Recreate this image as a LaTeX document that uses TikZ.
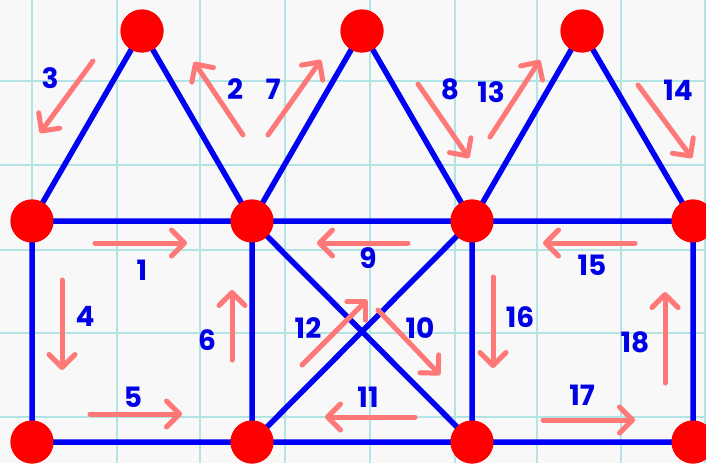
\documentclass[tikz,border=0pt]{standalone}
\usepackage{fontspec}
\setmainfont{Poppins}[BoldFont={Poppins Bold}]
\usetikzlibrary{arrows.meta}
\definecolor{paper}{RGB}{248,248,248}
\definecolor{gridc}{RGB}{178,228,230}
\definecolor{edgeb}{RGB}{0,0,245}
\definecolor{dotr}{RGB}{255,0,0}
\definecolor{arrc}{RGB}{255,120,120}
\definecolor{numb}{RGB}{0,0,230}
\tikzset{
  gridline/.style={draw=gridc,line width=2.5pt},
  edge/.style={draw=edgeb,line width=5.5pt},
  dot/.style={circle,fill=dotr,minimum size=43pt,inner sep=0pt},
  arr/.style={draw=arrc,line width=5pt,line cap=round,-{Straight Barb[length=13pt,width=26pt,round]}},
  num/.style={text=numb,font=\fontsize{28}{28}\selectfont\bfseries,inner sep=0pt}
}
\begin{document}
\begin{tikzpicture}[x=1pt,y=-1pt]
\useasboundingbox (0,0) rectangle (706,463);
\fill[paper] (0,0) rectangle (706,463);
\foreach \gx in {32,117,200,285,370,455,537,621,705}
  \draw[gridline] (\gx,0) -- (\gx,463);
\foreach \gy in {81,165,250,333,417}
  \draw[gridline] (0,\gy) -- (706,\gy);
% vertices
\node[dot] (t1) at (142,31) {};
\node[dot] (t2) at (362,31) {};
\node[dot] (t3) at (582,31) {};
\node[dot] (m1) at (32,221) {};
\node[dot] (m2) at (252,221) {};
\node[dot] (m3) at (472,221) {};
\node[dot] (m4) at (693,221) {};
\node[dot] (b1) at (32,442) {};
\node[dot] (b2) at (252,442) {};
\node[dot] (b3) at (472,442) {};
\node[dot] (b4) at (693,442) {};
% edges
\draw[edge] (t1.center) -- (m1.center) -- (m2.center) -- (t1.center)
            (t2.center) -- (m2.center) -- (m3.center) -- (t2.center)
            (t3.center) -- (m3.center) -- (m4.center) -- (t3.center)
            (m1.center) -- (b1.center) -- (b2.center) -- (b3.center) -- (b4.center) -- (m4.center)
            (m2.center) -- (b2.center) (m3.center) -- (b3.center)
            (m2.center) -- (b3.center) (m3.center) -- (b2.center);
% redraw dots on top
\foreach \n in {t1,t2,t3,m1,m2,m3,m4,b1,b2,b3,b4}
  \fill[dotr] (\n.center) circle (21.5pt);
% arrows
\draw[arr] (95,243) -- (187,243);
\draw[arr] (243,135) -- (194,62);
\draw[arr] (93,61) -- (40,133);
\draw[arr] (62,280) -- (62,370);
\draw[arr] (90,414) -- (182,414);
\draw[arr] (232,360) -- (232,290);
\draw[arr] (268,135) -- (321,60);
\draw[arr] (418,84) -- (469,158);
\draw[arr] (408,243) -- (317,243);
\draw[arr] (378,310) -- (440,375);
\draw[arr] (415,417) -- (325,417);
\draw[arr] (302,365) -- (367,300);
\draw[arr] (490,137) -- (540,60);
\draw[arr] (638,85) -- (692,158);
\draw[arr] (635,243) -- (543,243);
\draw[arr] (493,277) -- (493,368);
\draw[arr] (543,420) -- (635,420);
\draw[arr] (665,383) -- (665,292);
% labels
\node[num] (n1) at (142,270) {1};
\node[num] (n2) at (235,89) {2};
\node[num] (n3) at (50,78) {3};
\node[num] (n4) at (85,316) {4};
\node[num] (n5) at (133,397) {5};
\node[num] (n6) at (207,340) {6};
\node[num] (n7) at (273,89) {7};
\node[num] (n8) at (450,89) {8};
\node[num] (n9) at (368,258) {9};
\node[num] (n10) at (420,328) {10};
\node[num] (n11) at (368,397) {11};
\node[num] (n12) at (308,328) {12};
\node[num] (n13) at (491,92) {13};
\node[num] (n14) at (678,90) {14};
\node[num] (n15) at (592,265) {15};
\node[num] (n16) at (520,317) {16};
\node[num] (n17) at (582,395) {17};
\node[num] (n18) at (635,342) {18};
\end{tikzpicture}
\end{document}
